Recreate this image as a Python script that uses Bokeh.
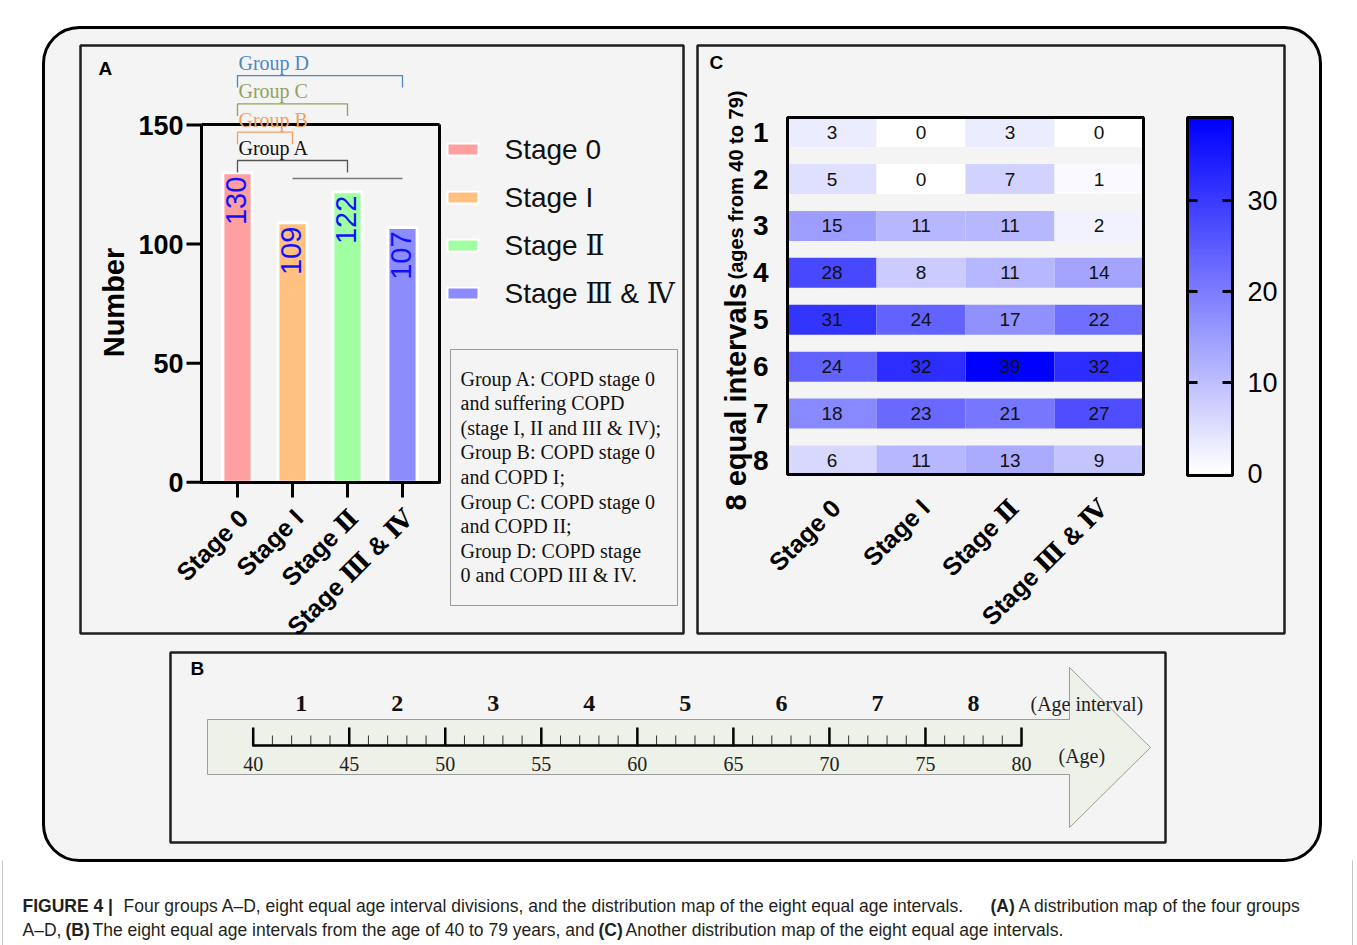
import numpy as np
from bokeh.plotting import figure
from bokeh.models import Range1d, BoxAnnotation, LinearColorMapper, ColumnDataSource
from bokeh.core.properties import value
from bokeh.embed import file_html
from bokeh.resources import INLINE

# ------------------------------------------------------------------ data
stages = ["Stage 0", "Stage I", "Stage Ⅱ", "Stage Ⅲ & Ⅳ"]
stage_counts = [130, 109, 122, 107]
stage_colors = ["#ff9f9f", "#ffc080", "#a0ffa0", "#8c8cff"]
count_ticks = [0, 50, 100, 150]

groups = ["Group A", "Group B", "Group C", "Group D"]
group_first = [0, 0, 0, 0]
group_last = [2, 1, 2, 3]
group_a_copd = [1, 3]          # Stage I .. Stage III & IV (suffering COPD)
group_line_colors = ["#555555", "#f2a060", "#8fa35a", "#4a88c2"]
group_text_colors = ["#111111", "#f2a060", "#8fa35a", "#4a88c2"]

note_lines = [
    "Group A: COPD stage 0",
    "and suffering COPD",
    "(stage I, II and III & IV);",
    "Group B:  COPD stage 0",
    "and  COPD I;",
    "Group C:  COPD stage 0",
    "and  COPD II;",
    "Group D:  COPD stage",
    "0 and  COPD III & IV.",
]

intervals = ["1", "2", "3", "4", "5", "6", "7", "8"]
heat_stages = ["Stage 0", "Stage I", "Stage Ⅱ", "Stage Ⅲ & Ⅳ"]
heat_counts = [
    [3, 0, 3, 0],
    [5, 0, 7, 1],
    [15, 11, 11, 2],
    [28, 8, 11, 14],
    [31, 24, 17, 22],
    [24, 32, 39, 32],
    [18, 23, 21, 27],
    [6, 11, 13, 9],
]
cbar_ticks = [0, 10, 20, 30]

age_ticks = [40, 45, 50, 55, 60, 65, 70, 75, 80]

caption_1 = [("FIGURE 4 |", "bold", 22),
             ("Four groups A–D, eight equal age interval divisions, and the distribution map of the eight equal age intervals.", "normal", 123),
             ("(A)", "bold", 990),
             ("A distribution map of the four groups", "normal", 1018)]
caption_2 = [("A–D,", "normal", 22),
             ("(B)", "bold", 65),
             ("The eight equal age intervals from the age of 40 to 79 years, and", "normal", 92),
             ("(C)", "bold", 598),
             ("Another distribution map of the eight equal age intervals.", "normal", 625)]

# ------------------------------------------------------------------ canvas
X0, X1, Y0, Y1 = 0, 1357, 0, 945
SANS = value("Liberation Sans")
STAGE_FONT = value("'Liberation Sans', 'DejaVu Serif'")
SERIF = value("Liberation Serif")
BG = "#f4f4f4"


def lin_range(d0, p0, d1, p1, pa, pb):
    f = lambda p: d0 + (p - p0) * (d1 - d0) / (p1 - p0)
    return Range1d(start=f(pa), end=f(pb))


p = figure(width=X1 - X0, height=Y1 - Y0, x_range=Range1d(X0, X1), y_range=Range1d(Y1, Y0),
           output_backend="svg", toolbar_location=None, min_border=0,
           x_axis_type=None, y_axis_type=None, outline_line_color=None,
           background_fill_color="white", border_fill_color="white")
p.grid.visible = False

p.extra_x_ranges = {
    "ax": lin_range(0, 237, 3, 402, X0, X1),
    "cx": lin_range(0, 831.5, 3, 1098.5, X0, X1),
    "bx": lin_range(40, 252.7, 80, 1021, X0, X1),
}
p.extra_y_ranges = {
    "ay": lin_range(0, 481.7, 150, 124.5, Y1, Y0),
    "cy": lin_range(1, 131.6, 8, 460.0, Y1, Y0),
    "cb": lin_range(0, 473, max(max(r) for r in heat_counts), 118, Y1, Y0),
}

# thin page frame around the caption area
p.segment(x0=[2, 1352], x1=[2, 1352], y0=[860, 860], y1=[945, 945],
          line_color="#c4c4c4", line_width=1)

# outer rounded frame
p.add_layout(BoxAnnotation(left=43, right=1320, top=27, bottom=860, border_radius=36,
                           fill_color=BG, fill_alpha=1, line_color="black", line_alpha=1,
                           line_width=3, level="underlay"))

# panel boxes
p.quad(left=[80, 697, 170], right=[683, 1284, 1165], top=[45, 45, 652], bottom=[633, 633, 842],
       fill_color=BG, line_color="#1e1e1e", line_width=2.5)
p.text(x=[98, 709, 190], y=[68, 62, 668], text=["A", "C", "B"], text_font=SANS,
       text_font_style="bold", text_font_size="19px", text_baseline="middle", text_align="left")

# ------------------------------------------------------------------ panel A
n = len(stages)
idx = list(range(n))
p.vbar(x=idx, top=stage_counts, bottom=0, width=0.53, fill_color=stage_colors,
       line_color="white", line_width=3, x_range_name="ax", y_range_name="ay")
p.text(x=idx, y=stage_counts, text=[str(v) for v in stage_counts], angle=np.pi / 2,
       x_offset=-2, y_offset=4, text_align="right", text_baseline="middle",
       text_font=SANS, text_font_size="29px", text_color="#1010ff",
       x_range_name="ax", y_range_name="ay")
# frame of the bar chart
p.segment(x0=[201, 201, 439, 201], x1=[201, 439, 439, 439],
          y0=[124, 124, 124, 482], y1=[483, 124, 483, 482], line_color="black", line_width=3)
# y ticks
p.segment(x0=[186] * len(count_ticks), x1=[201] * len(count_ticks), y0=count_ticks, y1=count_ticks,
          line_color="black", line_width=3, y_range_name="ay")
p.text(x=[183] * len(count_ticks), y=count_ticks, text=[str(t) for t in count_ticks],
       text_align="right", text_baseline="middle", text_font=SANS, text_font_style="bold",
       text_font_size="27px", y_range_name="ay")
p.text(x=[113], y=[302], text=["Number"], angle=np.pi / 2, text_align="center",
       text_baseline="middle", text_font=SANS, text_font_style="bold", text_font_size="29px")
# x ticks
p.segment(x0=idx, x1=idx, y0=[482] * n, y1=[497] * n, line_color="black", line_width=3,
          x_range_name="ax")
p.text(x=idx, y=[513] * n, text=stages, angle=np.pi / 4, x_offset=6, text_align="right",
       text_baseline="middle", text_font=STAGE_FONT, text_font_style="bold", text_font_size="25px",
       x_range_name="ax")

# group brackets
for i, g in enumerate(groups):
    top = 160 - i * 28.3
    a, b = group_first[i], group_last[i]
    p.multi_line(xs=[[a, a, b, b]], ys=[[top + 12, top, top, top + 12]],
                 line_color=group_line_colors[i], line_width=1.3, x_range_name="ax")
    p.text(x=[a], y=[top - 12.5], text=[g], x_offset=1, text_align="left", text_baseline="middle",
           text_font=SERIF, text_font_size="20px", text_color=group_text_colors[i],
           x_range_name="ax")
p.segment(x0=[group_a_copd[0]], x1=[group_a_copd[1]], y0=[178], y1=[178],
          line_color="#777777", line_width=1.3, x_range_name="ax")

# legend
for i, s in enumerate(stages):
    yy = 149 + i * 48
    p.quad(left=[447], right=[478], top=[yy - 6], bottom=[yy + 6], fill_color=stage_colors[i],
           line_color="white", line_width=2)
    p.text(x=[504], y=[yy], text=[s], text_baseline="middle", text_font=STAGE_FONT,
           text_font_size="28px", text_color="#111111")

# note box
p.quad(left=[450], right=[677], top=[349], bottom=[605], fill_color=None,
       line_color="#9a9a9a", line_width=1)
p.text(x=[460] * len(note_lines), y=[378 + 24.6 * i for i in range(len(note_lines))],
       text=note_lines, text_baseline="middle", text_font=SERIF, text_font_size="20px",
       text_color="#111111")

# ------------------------------------------------------------------ panel C
rows, cols, vals = [], [], []
for r, row in enumerate(heat_counts):
    for c, v in enumerate(row):
        rows.append(r + 1)
        cols.append(c)
        vals.append(v)
src = ColumnDataSource(dict(row=rows, col=cols, count=vals, label=[str(v) for v in vals]))
vmax = max(vals)
palette = ["#%02x%02xff" % (v, v) for v in np.linspace(255, 0, 256).round().astype(int)]
mapper = LinearColorMapper(palette=palette, low=0, high=vmax)
p.rect(x="col", y="row", width=1, height=0.64, source=src,
       fill_color={"field": "count", "transform": mapper}, line_color=None,
       x_range_name="cx", y_range_name="cy")
p.text(x="col", y="row", text="label", source=src, text_align="center", text_baseline="middle",
       text_font=SANS, text_font_size="19px", text_color="#111111",
       x_range_name="cx", y_range_name="cy")
p.quad(left=[787], right=[1143], top=[117], bottom=[474], fill_color=None,
       line_color="black", line_width=3)
p.text(x=[768] * len(intervals), y=list(range(1, len(intervals) + 1)), text=intervals,
       text_align="right", text_baseline="middle", text_font=SANS, text_font_style="bold",
       text_font_size="28px", y_range_name="cy")
p.text(x=[735], y=[510], text=["8 equal intervals"], angle=np.pi / 2, text_align="left",
       text_baseline="alphabetic", text_font=SANS, text_font_style="bold", text_font_size="29px")
p.text(x=[735], y=[279], text=["(ages from 40 to 79)"], angle=np.pi / 2, text_align="left",
       text_baseline="alphabetic", text_font=SANS, text_font_style="bold", text_font_size="20px")
hc = list(range(len(heat_stages)))
p.text(x=hc, y=[503] * len(hc), text=heat_stages, angle=np.pi / 4, x_offset=4,
       text_align="right", text_baseline="middle", text_font=STAGE_FONT, text_font_style="bold",
       text_font_size="25px", x_range_name="cx")

# colour bar
grad = np.linspace(0, vmax, 300).reshape(-1, 1)
p.image(image=[grad], x=1187, y=0, dw=45, dh=vmax, color_mapper=mapper, y_range_name="cb")
p.quad(left=[1187], right=[1232], top=[117], bottom=[475], fill_color=None,
       line_color="black", line_width=3)
t_in = cbar_ticks[1:]
p.segment(x0=[1187] * len(t_in) + [1222] * len(t_in), x1=[1197] * len(t_in) + [1232] * len(t_in),
          y0=t_in + t_in, y1=t_in + t_in, line_color="black", line_width=3, y_range_name="cb")
p.text(x=[1247] * len(cbar_ticks), y=cbar_ticks, text=[str(t) for t in cbar_ticks],
       text_baseline="middle", text_font=SANS, text_font_size="27px", y_range_name="cb")

# ------------------------------------------------------------------ panel B
p.patch(x=[207, 1069, 1069, 1150, 1069, 1069, 207], y=[719, 719, 667, 747, 827, 774, 774],
        fill_color="#eef1e7", line_color="#9c9c9c", line_width=1)
a0, a1 = age_ticks[0], age_ticks[-1]
minor = [a for a in range(a0, a1 + 1) if a not in age_ticks]
p.segment(x0=minor, x1=minor, y0=[745] * len(minor), y1=[735] * len(minor),
          line_color="#333333", line_width=1, x_range_name="bx")
p.segment(x0=age_ticks, x1=age_ticks, y0=[746] * len(age_ticks), y1=[727] * len(age_ticks),
          line_color="black", line_width=2.5, x_range_name="bx")
p.segment(x0=[a0], x1=[a1], y0=[745], y1=[745], line_color="black", line_width=2.5,
          x_range_name="bx")
p.text(x=age_ticks, y=[763] * len(age_ticks), text=[str(a) for a in age_ticks],
       text_align="center", text_baseline="middle", text_font=SERIF, text_font_size="20px",
       text_color="#222222", x_range_name="bx")
mids = [(age_ticks[i] + age_ticks[i + 1]) / 2 for i in range(len(age_ticks) - 1)]
p.text(x=mids, y=[703] * len(mids), text=intervals, text_align="center", text_baseline="middle",
       text_font=SERIF, text_font_style="bold", text_font_size="24px", text_color="#111111",
       x_range_name="bx")
p.text(x=[1030, 1058], y=[703, 755], text=["(Age interval)", "(Age)"], text_baseline="middle",
       text_font=SERIF, text_font_size="20px", text_color="#222222")

# ------------------------------------------------------------------ caption
for line, yy in ((caption_1, 905), (caption_2, 929)):
    for txt, style, xx in line:
        p.text(x=[xx], y=[yy], text=[txt], text_baseline="middle", text_font=SANS,
               text_font_style=style, text_font_size="17.5px", text_color="#231f20")

open("out.html", "w").write(file_html(p, INLINE))
